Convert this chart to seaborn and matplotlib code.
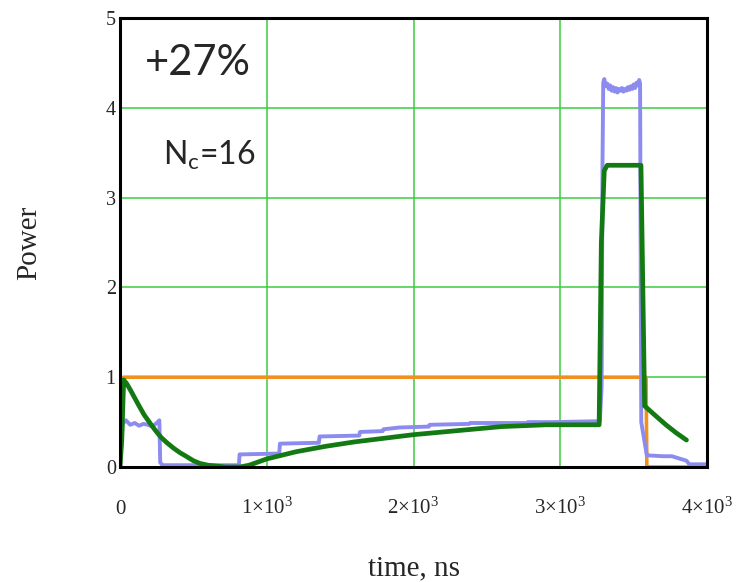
import matplotlib
matplotlib.use("Agg")
import matplotlib.pyplot as plt
import matplotlib.transforms as mtransforms
import seaborn as sns

# Input (reference) pulse: switched on at t=0, off at ~3585 ns
orange_t = [0, 25, 3585, 3590, 4000]
orange_p = [0.0, 1.0, 1.0, 0.0, 0.0]

# Output power of the stepped cavity (noisy trace)
blue_t = [0, 18, 40, 70, 100, 130, 160, 190, 220, 250, 268, 274, 290, 500, 810,
          815, 1085, 1090, 1355, 1360, 1630, 1635, 1790, 1795, 1905, 2105, 2110,
          2380, 2385, 2770, 2780, 2950, 3270, 3282, 3288, 3293,
          3300, 3310, 3320, 3330, 3340, 3350, 3360, 3370, 3380, 3390, 3400, 3410,
          3420, 3430, 3440, 3450, 3460, 3470, 3480, 3490, 3500, 3510, 3520, 3530,
          3538, 3544, 3552, 3590, 3700, 3760, 3840, 3860, 3880, 4000]
blue_p = [0.0, 0.48, 0.52, 0.47, 0.49, 0.46, 0.48, 0.47, 0.45, 0.49, 0.52, 0.05,
          0.02, 0.02, 0.02,
          0.14, 0.15, 0.26, 0.27, 0.34, 0.35, 0.39, 0.40, 0.42, 0.44, 0.45, 0.47,
          0.48, 0.49, 0.49, 0.50, 0.50, 0.51, 0.9, 3.4, 4.28,
          4.32, 4.24, 4.27, 4.21, 4.25, 4.19, 4.23, 4.18, 4.22, 4.17, 4.21, 4.19,
          4.22, 4.18, 4.21, 4.19, 4.23, 4.20, 4.24, 4.21, 4.26, 4.22, 4.28, 4.25,
          4.31, 4.27, 0.5, 0.13, 0.12, 0.12, 0.08, 0.07, 0.03, 0.03]

# Stored (averaged) power
green_t = [0, 12, 25, 45, 70, 100, 130, 165, 204, 240, 280, 320, 365, 408, 450,
           500, 544, 600, 660, 720, 816, 880, 1000, 1200, 1400, 1600, 1800, 2000,
           2200, 2400, 2600, 2900, 3265, 3280, 3300, 3320, 3550, 3575, 3650, 3720,
           3790, 3860]
green_p = [0.0, 0.3, 0.97, 0.93, 0.86, 0.77, 0.68, 0.58, 0.49, 0.41, 0.33, 0.27,
           0.21, 0.16, 0.12, 0.07, 0.04, 0.02, 0.01, 0.0, 0.0, 0.02, 0.09, 0.17,
           0.23, 0.28, 0.32, 0.36, 0.39, 0.42, 0.45, 0.47, 0.47, 2.5, 3.30, 3.36,
           3.36, 0.68, 0.57, 0.47, 0.38, 0.30]

x_ticks = [0, 1000, 2000, 3000, 4000]
x_tick_labels = ["0", "1×10$\\mathregular{^{3}}$", "2×10$\\mathregular{^{3}}$",
                 "3×10$\\mathregular{^{3}}$", "4×10$\\mathregular{^{3}}$"]
y_ticks = [0, 1, 2, 3, 4, 5]

sns.set_style("white")
plt.rcParams["font.family"] = ["Liberation Serif", "DejaVu Serif"]
plt.rcParams["mathtext.fontset"] = "custom"
plt.rcParams["mathtext.rm"] = "Liberation Serif"

fig = plt.figure(figsize=(7.41, 5.82), dpi=100)
ax = fig.add_axes([120 / 741, 1 - 467 / 582, 587 / 741, 449 / 582])

orange = "#f0901e"
blue = "#8c8cf0"
green = "#137a13"
grid_green = "#3ccc3c"

for t, p, c, lw in [(orange_t, orange_p, orange, 2.6),
                    (blue_t, blue_p, blue, 2.8),
                    (green_t, green_p, green, 3.4)]:
    sns.lineplot(x=t, y=p, ax=ax, color=c, linewidth=lw,
                 estimator=None, sort=False, legend=False)

ax.set_xlim(0, 4000)
ax.set_ylim(0, 5)
ax.set_xticks(x_ticks)
ax.set_xticklabels(x_tick_labels, fontsize=15)
ax.set_yticks(y_ticks)
ax.set_yticklabels([str(v) for v in y_ticks], fontsize=14.5)
for lab in ax.get_xticklabels():
    lab.set_verticalalignment("baseline")
shift_down = mtransforms.ScaledTranslation(0, -4 / 72, fig.dpi_scale_trans)
for lab in ax.get_yticklabels():
    lab.set_transform(lab.get_transform() + shift_down)
ax.tick_params(axis="x", length=0, pad=34)
ax.tick_params(axis="y", length=0, pad=3)

ax.grid(True, color=grid_green, linewidth=1.1)
ax.set_axisbelow(True)
for s in ax.spines.values():
    s.set_visible(True)
    s.set_color("black")
    s.set_linewidth(2.2)

ax.set_xlabel("time, ns", fontsize=21, labelpad=26)
ax.set_ylabel("Power", fontsize=21, labelpad=46)

ax.text(170, 4.37, "+27%", fontsize=30, family=["Lato", "DejaVu Sans"],
        ha="left", va="baseline")
ax.text(293, 3.36, "N$\\mathregular{_c}$=16", fontsize=23,
        family=["Lato", "DejaVu Sans"], ha="left", va="baseline")

fig.savefig("out.png", dpi=100, facecolor="white")
